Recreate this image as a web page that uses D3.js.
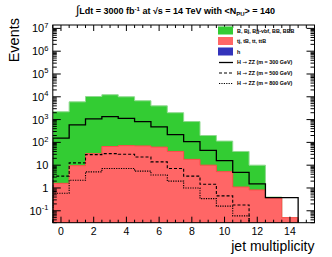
<!DOCTYPE html>
<html>
<head>
<meta charset="utf-8">
<script src="https://cdn.jsdelivr.net/npm/d3@7"></script>
<style>
  body { margin: 0; background: #fff; }
  svg { display: block; font-family: 'Liberation Sans', Arial, Helvetica, sans-serif; }
</style>
</head>
<body>
<div id="chart"></div>
<script>
// jet multiplicity bins
const bins = [0, 1, 2, 3, 4, 5, 6, 7, 8, 9, 10, 11, 12, 13, 14]

// stacked backgrounds (top of each stack layer)
const bkgAll = [2200, 6000, 10300, 12300, 10000, 6700, 4000, 2000, 820, 200, 114, 40, 10, 0.4, 0.05]
const bkgTop = [1.6, 9.5, 32, 66, 72, 70, 62, 40, 18, 10, 5.2, 1.1, 0.82, 0.36, 0.05]
const bkgH = [0.01, 0.01, 0.01, 0.01, 0.01, 0.01, 0.01, 0.01, 0.01, 0.01, 0.01, 0.01, 0.01, 0.01, 0.01]

// signals
const sig300 = [154, 590, 1070, 1350, 1140, 820, 480, 220, 108, 45, 16, 4.8, 1.5, 0.38, 0.38]
const sig500 = [3.3, 12.6, 29, 32, 30, 23, 14, 7.2, 3.3, 1.45, 0.45, 0.18]
const sig800 = [0.59, 2.2, 5.1, 7.2, 7.2, 5.5, 3.7, 2.0, 1.0, 0.34, 0.16, 0.06]

const xTickValues = [0, 2, 4, 6, 8, 10, 12, 14]
const yDecades = [-1, 0, 1, 2, 3, 4, 5, 6, 7]

const legendLabels = [
  'B, Bj, Bjj-vbf, BB, BBB',
  'tj, tB, tt, ttB',
  'h',
  ['H ', '\u2192', ' ZZ (m = 300 GeV)'],
  ['H ', '\u2192', ' ZZ (m = 500 GeV)'],
  ['H ', '\u2192', ' ZZ (m = 800 GeV)']
]

const GREEN = '#33cc33'
const RED = '#ff6666'
const BLUE = '#3333bb'

const dimensions = {
  width: 332,
  height: 257,
  margin: { top: 25, right: 17.5, bottom: 34.3, left: 52.8 }
}
const innerW = dimensions.width - dimensions.margin.left - dimensions.margin.right
const innerH = dimensions.height - dimensions.margin.top - dimensions.margin.bottom

const wrapper = d3.select('#chart').append('svg')
  .attr('width', dimensions.width)
  .attr('height', dimensions.height)

const defs = wrapper.append('defs')
defs.append('clipPath').attr('id', 'frameClip')
  .append('rect').attr('width', innerW).attr('height', innerH)

const bounds = wrapper.append('g')
  .attr('transform', `translate(${dimensions.margin.left}, ${dimensions.margin.top})`)

const xScale = d3.scaleLinear()
  .domain([-0.5, 15.5])
  .range([0, innerW])

const yScale = d3.scaleLog()
  .domain([0.03, 1.41e7])
  .range([innerH, 0])
  .clamp(true)

// step-shaped points for a histogram
function stepPoints (values) {
  const pts = []
  values.forEach((v, i) => {
    pts.push([bins[i] - 0.5, v])
    pts.push([bins[i] + 0.5, v])
  })
  return pts
}

const area = d3.area()
  .x(d => xScale(d[0]))
  .y0(innerH)
  .y1(d => yScale(d[1]))

const plot = bounds.append('g').attr('clip-path', 'url(#frameClip)')

// stack: largest first
plot.append('path')
  .attr('d', area(stepPoints(bkgAll)))
  .attr('fill', GREEN)
  .attr('stroke', '#8fd98f')
  .attr('stroke-width', 1)

plot.append('path')
  .attr('d', area(stepPoints(bkgTop)))
  .attr('fill', RED)
  .attr('stroke', '#ff4a4a')
  .attr('stroke-width', 1)

plot.append('path')
  .attr('d', area(stepPoints(bkgH)))
  .attr('fill', BLUE)

// signal outlines, closed down to the floor at the ends
function outline (values) {
  const pts = stepPoints(values)
  const first = [pts[0][0], 1e-3]
  const last = [pts[pts.length - 1][0], 1e-3]
  return d3.line()
    .x(d => xScale(d[0]))
    .y(d => yScale(d[1]))([first, ...pts, last])
}

const signals = [
  { values: sig300, dash: null, width: 1.3 },
  { values: sig500, dash: '3,2', width: 1.1 },
  { values: sig800, dash: '1.2,1.2', width: 1.1 }
]

plot.selectAll('path.signal')
  .data(signals)
  .join('path')
  .attr('class', 'signal')
  .attr('d', d => outline(d.values))
  .attr('fill', 'none')
  .attr('stroke', '#000')
  .attr('stroke-width', d => d.width)
  .attr('stroke-dasharray', d => d.dash)

// frame
bounds.append('rect')
  .attr('width', innerW)
  .attr('height', innerH)
  .attr('fill', 'none')
  .attr('stroke', '#000')
  .attr('stroke-width', 1)

// ticks, ROOT style (inside, on all four sides)
const ticks = bounds.append('g')
  .attr('stroke', '#000')
  .attr('stroke-width', 1)

const xMinor = d3.range(-0.5, 15.51, 0.5).filter(v => !xTickValues.includes(v))
xTickValues.forEach(v => {
  const x = xScale(v)
  ticks.append('line').attr('x1', x).attr('x2', x).attr('y1', innerH).attr('y2', innerH - 6)
  ticks.append('line').attr('x1', x).attr('x2', x).attr('y1', 0).attr('y2', 6)
})
xMinor.forEach(v => {
  const x = xScale(v)
  ticks.append('line').attr('x1', x).attr('x2', x).attr('y1', innerH).attr('y2', innerH - 3)
  ticks.append('line').attr('x1', x).attr('x2', x).attr('y1', 0).attr('y2', 3)
})

yDecades.forEach(p => {
  const y = yScale(Math.pow(10, p))
  ticks.append('line').attr('x1', 0).attr('x2', 8).attr('y1', y).attr('y2', y)
  ticks.append('line').attr('x1', innerW).attr('x2', innerW - 8).attr('y1', y).attr('y2', y)
})
d3.range(-2, 8).forEach(p => {
  d3.range(2, 10).forEach(k => {
    const v = k * Math.pow(10, p)
    if (v < yScale.domain()[0] || v > yScale.domain()[1]) return
    const y = yScale(v)
    ticks.append('line').attr('x1', 0).attr('x2', 4).attr('y1', y).attr('y2', y)
    ticks.append('line').attr('x1', innerW).attr('x2', innerW - 4).attr('y1', y).attr('y2', y)
  })
})

// x tick labels
bounds.append('g')
  .selectAll('text')
  .data(xTickValues)
  .join('text')
  .attr('x', d => xScale(d))
  .attr('y', innerH + 12.6)
  .attr('text-anchor', 'middle')
  .attr('font-size', 10.5)
  .text(d => d)

// y tick labels
const yLabels = bounds.append('g')
  .selectAll('text')
  .data(yDecades)
  .join('text')
  .attr('x', -4.5)
  .attr('y', d => yScale(Math.pow(10, d)))
  .attr('dy', '0.36em')
  .attr('text-anchor', 'end')
  .attr('font-size', 11)
yLabels.each(function (d) {
  const t = d3.select(this)
  if (d === 0) { t.text('1'); return }
  if (d === 1) { t.text('10'); return }
  t.append('tspan').text('10')
  t.append('tspan').attr('dy', -4.5).attr('font-size', 7.5).text(d)
})

// axis titles
wrapper.append('text')
  .attr('transform', 'translate(18.5, 18) rotate(-90)')
  .attr('text-anchor', 'end')
  .attr('font-size', 14.5)
  .text('Events')

wrapper.append('text')
  .attr('x', 314.5)
  .attr('y', 250.8)
  .attr('text-anchor', 'end')
  .attr('font-size', 14)
  .text('jet multiplicity')

// title
const title = wrapper.append('text')
  .attr('x', 76)
  .attr('y', 14)
  .attr('font-size', 9)
  .attr('font-weight', 'bold')
title.append('tspan').attr('font-size', 12).attr('font-weight', 'normal').text('\u222B')
title.append('tspan').text('Ldt = 3000 fb')
title.append('tspan').attr('dy', -3.5).attr('font-size', 6).text('-1')
title.append('tspan').attr('dy', 3.5).text(' at \u221As = 14 TeV with <N')
title.append('tspan').attr('dy', 2).attr('font-size', 6).text('PU')
title.append('tspan').attr('dy', -2).text('> = 140')

// legend
const legend = wrapper.append('g')
  .attr('transform', 'translate(218, 26.5)')
const rowH = 10.5
const legendItems = legendLabels.map((label, i) => ({ label, i }))
legend.selectAll('g')
  .data(legendItems)
  .join('g')
  .attr('transform', d => `translate(0, ${d.i * rowH})`)
  .each(function (d) {
    const g = d3.select(this)
    if (d.i < 3) {
      g.append('rect')
        .attr('width', 15)
        .attr('height', 8)
        .attr('fill', [GREEN, RED, BLUE][d.i])
    } else {
      const s = signals[d.i - 3]
      g.append('line')
        .attr('x1', 1).attr('x2', 15)
        .attr('y1', 4.5).attr('y2', 4.5)
        .attr('stroke', '#000')
        .attr('stroke-width', s.width)
        .attr('stroke-dasharray', s.dash)
    }
    const t = g.append('text')
      .attr('x', 19)
      .attr('y', 6)
      .attr('font-size', 5.4)
      .attr('font-weight', 'bold')
    if (Array.isArray(d.label)) {
      t.append('tspan').text(d.label[0])
      t.append('tspan').attr('font-family', 'DejaVu Sans').attr('font-weight', 'normal').text(d.label[1])
      t.append('tspan').text(d.label[2])
    } else {
      t.text(d.label)
    }
  })
</script>
</body>
</html>
